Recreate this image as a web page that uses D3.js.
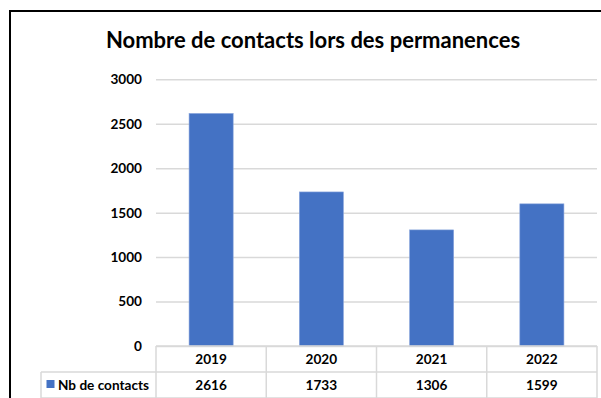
<!DOCTYPE html>
<html>
<head>
<meta charset="utf-8">
<script src="https://cdn.jsdelivr.net/npm/d3@7"></script>
<style>
  html, body { margin: 0; padding: 0; background: #fff; }
  svg { display: block; font-family: Lato, "Noto Sans", sans-serif; }
</style>
</head>
<body>
<svg id="chart" width="601" height="398"></svg>
<script>
// Contacts recorded during office hours, by year
const years = ["2019", "2020", "2021", "2022"];
const contacts = [2616, 1733, 1306, 1599];
const yTicks = [0, 500, 1000, 1500, 2000, 2500, 3000];
const seriesName = "Nb de contacts";
const titleText = "Nombre de contacts lors des permanences";

const svg = d3.select("#chart");
const blue = "#4472C4";
const gridColor = "#d9d9d9";
const labelSize = 13.6;

const plot = { left: 156, right: 597, top: 79.3, bottom: 346 };
const rowH = 26;

// outer frame (extends past the right and bottom edges)
svg.append("rect")
  .attr("x", 10).attr("y", 11)
  .attr("width", 620).attr("height", 420)
  .attr("fill", "none").attr("stroke", "#000").attr("stroke-width", 2);

// title
svg.append("text")
  .attr("x", 313).attr("y", 47.5)
  .attr("text-anchor", "middle")
  .attr("font-size", 22).attr("font-weight", 700)
  .attr("fill", "#000")
  .text(titleText);

const x = d3.scaleBand().domain(years).range([plot.left, plot.right]).padding(0);
const xBar = d3.scaleBand().domain(years).range([plot.left, plot.right])
  .paddingInner(0.6).paddingOuter(0.3);
const y = d3.scaleLinear().domain([0, 3000]).range([plot.bottom, plot.top]);

// value axis with gridlines
const yAxis = svg.append("g")
  .attr("transform", `translate(${plot.left},0)`)
  .call(d3.axisLeft(y).tickValues(yTicks).tickFormat(d3.format("d"))
    .tickSize(-(plot.right - plot.left)).tickPadding(14));
yAxis.select(".domain").remove();
yAxis.selectAll(".tick line").attr("stroke", gridColor).attr("stroke-width", 1.5);
yAxis.selectAll(".tick text")
  .attr("font-family", "Lato, 'Noto Sans', sans-serif")
  .attr("font-size", labelSize).attr("font-weight", 700).attr("fill", "#000");

// bars
svg.append("g").selectAll("rect")
  .data(years.map((yr, i) => ({ yr, v: contacts[i] })))
  .join("rect")
  .attr("x", d => xBar(d.yr))
  .attr("width", xBar.bandwidth())
  .attr("y", d => y(d.v))
  .attr("height", d => y(0) - y(d.v))
  .attr("fill", blue)
  .attr("stroke", "#8aa6dc").attr("stroke-width", 0.6);

// data table under the chart
const table = svg.append("g")
  .attr("stroke", gridColor).attr("stroke-width", 1.5).attr("fill", "none");
const r1 = plot.bottom, r2 = plot.bottom + rowH, r3 = plot.bottom + 2 * rowH;
const labelLeft = 41;
// horizontal lines
table.append("line").attr("x1", plot.left).attr("x2", plot.right).attr("y1", r1).attr("y2", r1);
table.append("line").attr("x1", labelLeft).attr("x2", plot.right).attr("y1", r2).attr("y2", r2);
table.append("line").attr("x1", labelLeft).attr("x2", plot.right).attr("y1", r3).attr("y2", r3);
// vertical lines
table.append("line").attr("x1", labelLeft).attr("x2", labelLeft).attr("y1", r2).attr("y2", r3);
const cols = years.map(d => x(d)).concat([plot.right]);
table.selectAll("line.col").data(cols).join("line")
  .attr("class", "col")
  .attr("x1", d => d).attr("x2", d => d)
  .attr("y1", r1).attr("y2", r3);

// category labels
svg.append("g").selectAll("text")
  .data(years).join("text")
  .attr("x", d => x(d) + x.bandwidth() / 2)
  .attr("y", r1 + rowH / 2)
  .attr("dy", "0.36em")
  .attr("text-anchor", "middle")
  .attr("font-size", labelSize).attr("font-weight", 700).attr("fill", "#000")
  .text(d => d);

// values row
svg.append("g").selectAll("text")
  .data(years.map((yr, i) => ({ yr, v: contacts[i] })))
  .join("text")
  .attr("x", d => x(d.yr) + x.bandwidth() / 2)
  .attr("y", r2 + rowH / 2)
  .attr("dy", "0.36em")
  .attr("text-anchor", "middle")
  .attr("font-size", labelSize).attr("font-weight", 700).attr("fill", "#000")
  .text(d => d.v);

// legend key + series name
svg.append("rect")
  .attr("x", 46.5).attr("y", r2 + 8)
  .attr("width", 8).attr("height", 8)
  .attr("fill", blue);
svg.append("text")
  .attr("x", 58).attr("y", r2 + rowH / 2)
  .attr("dy", "0.36em")
  .attr("font-size", labelSize).attr("font-weight", 700).attr("fill", "#000")
  .text(seriesName);
</script>
</body>
</html>
